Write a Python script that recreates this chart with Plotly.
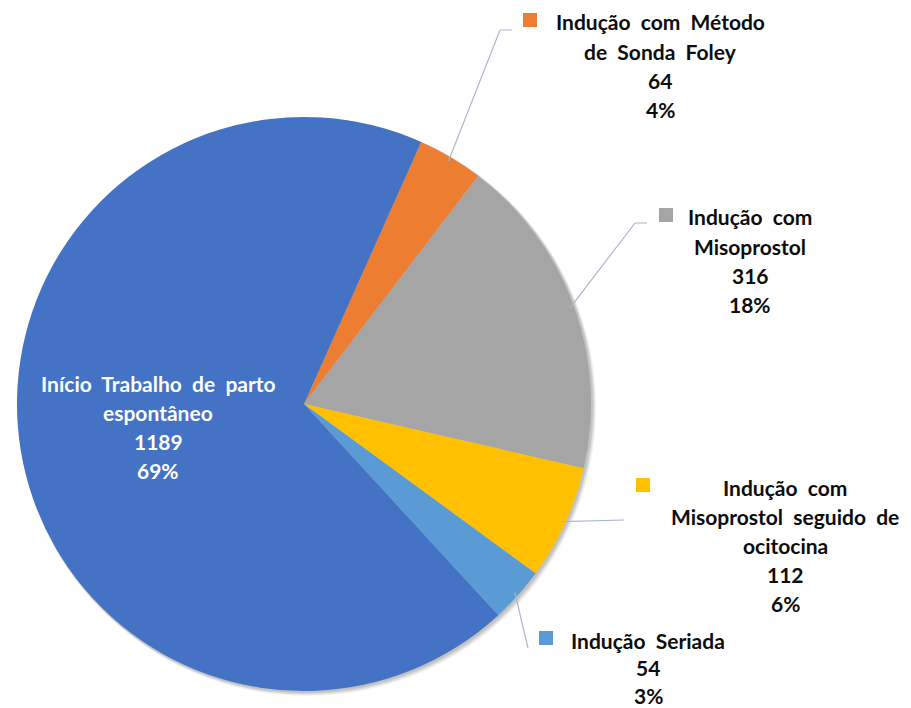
import math
import plotly.graph_objects as go

# ---- data ----
categories = [
    "Indução com Método de Sonda Foley",
    "Indução com Misoprostol",
    "Indução com Misoprostol seguido de ocitocina",
    "Indução Seriada",
    "Início Trabalho de parto espontâneo",
]
label_lines = [
    ["Indução com Método", "de Sonda Foley"],
    ["Indução com", "Misoprostol"],
    ["Indução com", "Misoprostol seguido de", "ocitocina"],
    ["Indução Seriada"],
    ["Início Trabalho de parto", "espontâneo"],
]
values = [64, 316, 112, 54, 1189]
colors = ["#ED7D31", "#A5A5A5", "#FFC000", "#5B9BD5", "#4472C4"]

W, H = 911, 708
cx, cy, R = 304, 404, 287
rotation = 24.1
FS = 21


def px(x, y):
    return x / W, 1 - y / H


total = sum(values)
pcts = [round(v / total * 100) for v in values]

fig = go.Figure()
fig.add_trace(go.Pie(
    labels=categories, values=values, sort=False, direction="clockwise",
    rotation=rotation, textinfo="none", hoverinfo="label+value+percent",
    marker=dict(colors=colors, line=dict(width=0)),
    domain=dict(x=[(cx - R) / W, (cx + R) / W], y=[(H - cy - R) / H, (H - cy + R) / H]),
    showlegend=False,
))

shapes = []
# soft shadow behind pie
for off, op in [(5, 0.05), (4, 0.06), (3, 0.07), (2, 0.08)]:
    x0, y1 = px(cx - R + off * 0.3, cy - R + off * 0.3)
    x1, y0 = px(cx + R + off, cy + R + off)
    shapes.append(dict(type="circle", xref="paper", yref="paper", x0=x0, x1=x1, y0=y0, y1=y1,
                       fillcolor=f"rgba(0,0,0,{op})", line=dict(width=0), layer="below"))

# mid angles of slices (degrees clockwise from 12 o'clock)
mids = []
acc = 0
for v in values:
    a0 = rotation + acc / total * 360
    acc += v
    a1 = rotation + acc / total * 360
    mids.append((a0 + a1) / 2)

# label layout (pixel positions)
layouts = [
    dict(tx=660, ty=22, step=29.3, sq=(530, 20), elbow=[(500, 30), (512, 30)]),
    dict(tx=750, ty=217, step=29.3, sq=(666, 215), elbow=[(635, 223), (647, 223)]),
    dict(tx=785, ty=487, step=29.0, sq=(643, 485), elbow=[(624, 520)]),
    dict(tx=648, ty=640, step=27.5, sq=(546, 638), elbow=[(528, 648)]),
    dict(tx=158, ty=383, step=29.3, sq=None, elbow=None),
]

annotations = []
line_color = "#A9B7CC"
for i, lay in enumerate(layouts):
    lines = label_lines[i] + [str(values[i]), f"{pcts[i]}%"]
    fc = "white" if lay["sq"] is None else "#0D0D0D"
    for k, t in enumerate(lines):
        t = t.replace(" ", "\u00a0\u00a0")
        x, y = px(lay["tx"], lay["ty"] + k * lay["step"])
        annotations.append(dict(x=x, y=y, xref="paper", yref="paper", text=f"<b>{t}</b>",
                                showarrow=False, xanchor="center", yanchor="middle",
                                font=dict(family="Lato", size=FS, color=fc)))
    if lay["sq"] is not None:
        sx, sy = lay["sq"]
        x0, y1 = px(sx - 7, sy - 7)
        x1, y0 = px(sx + 7, sy + 7)
        shapes.append(dict(type="rect", xref="paper", yref="paper", x0=x0, x1=x1, y0=y0, y1=y1,
                           fillcolor=colors[i], line=dict(width=0)))
    if lay["elbow"] is not None:
        a = math.radians(mids[i])
        sxp = cx + R * 0.985 * math.sin(a)
        syp = cy - R * 0.985 * math.cos(a)
        pts = [(sxp, syp)] + lay["elbow"]
        path = ""
        for j, (xx, yy) in enumerate(pts):
            X, Y = px(xx, yy)
            path += ("M" if j == 0 else " L") + f" {X:.5f} {Y:.5f}"
        shapes.append(dict(type="path", xref="paper", yref="paper", path=path,
                           line=dict(color=line_color, width=1.2)))

fig.update_layout(
    width=W, height=H, margin=dict(l=0, r=0, t=0, b=0),
    paper_bgcolor="white", plot_bgcolor="white",
    shapes=shapes, annotations=annotations,
    font=dict(family="Lato"),
)
fig.write_html("out.html", config={"displayModeBar": False},
               post_script="document.body.style.margin='0';document.body.style.padding='0';")
